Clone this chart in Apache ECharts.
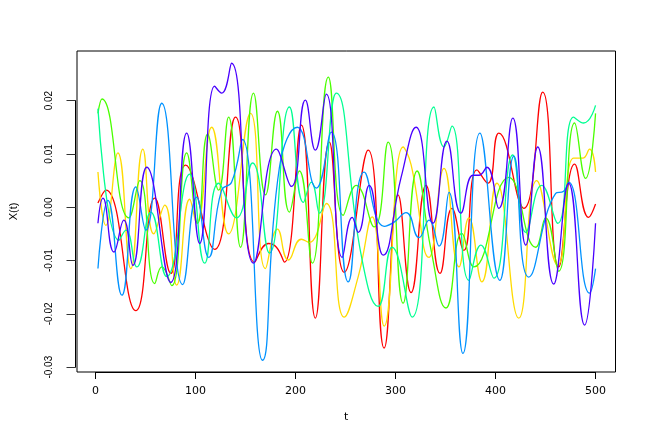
<!DOCTYPE html>
<html>
<head>
<meta charset="utf-8">
<script src="https://cdn.jsdelivr.net/npm/echarts@6/dist/echarts.min.js"></script>
<style>
  html, body { margin: 0; padding: 0; background: #fff; }
  #chart { width: 654px; height: 436px; }
</style>
</head>
<body>
<div id="chart"></div>
<script>
// six sample paths X(t) as [t, value] at turning points
var seriesNames = ["X1", "X2", "X3", "X4", "X5", "X6"];
var colors = ["#FF0000", "#FFDB00", "#49FF00", "#00FF92", "#0092FF", "#4900FF"];

var red = [[1,0.0008],[9,0.0032],[39,-0.0194],[58,0.0017],[74,-0.0124],[89,0.0079],[118,-0.0079],[139,0.0169],[158,-0.0103],[172,-0.0068],[180,-0.0075],[188,-0.0103],[205,0.0154],[219,-0.0208],[233,0.0122],[248,-0.0122],[272,0.0107],[288,-0.0264],[302,0.0023],[315,-0.016],[330,0.0041],[344,-0.0124],[356,-0.0002],[368,-0.0081],[381,0.007],[392,0.0045],[403,0.0139],[428,-0.0002],[447,0.0216],[463,-0.0112],[479,0.0081],[493,-0.0019],[500,0.0006]];
var yellow = [[1,0.0066],[9,-0.0034],[21,0.0102],[34,-0.0115],[46,0.0109],[57,-0.005],[68,0.0004],[80,-0.0146],[93,0.0015],[100,-0.003],[115,0.015],[132,-0.005],[154,0.0176],[169,-0.0115],[181,-0.0041],[192,-0.0099],[205,-0.006],[213,-0.0066],[230,0.0007],[248,-0.0206],[262,-0.013],[276,-0.0018],[288,-0.0223],[307,0.0113],[315,0.008],[333,-0.0094],[348,0.0073],[363,-0.0112],[373,-0.002],[386,-0.014],[401,0.0045],[423,-0.0208],[441,0.005],[462,-0.0109],[478,0.0092],[487,0.0092],[494,0.0109],[500,0.0066]];
var green = [[1,0.0176],[5,0.0203],[32,-0.002],[43,0.005],[58,-0.0143],[65,-0.0112],[75,-0.0147],[90,0.0102],[101,-0.003],[111,0.0137],[122,0.0032],[132,0.0169],[144,-0.0075],[157,0.0214],[169,0.0023],[181,0.018],[193,-0.0009],[203,0.0068],[216,-0.0105],[232,0.0244],[247,-0.0015],[260,0.0041],[278,-0.0037],[292,0.0122],[307,-0.018],[321,0.0068],[335,-0.008],[350,-0.0189],[366,-0.0049],[378,-0.0112],[413,0.0056],[440,-0.0075],[450,-0.002],[463,-0.012],[479,0.0158],[490,0.0054],[500,0.0176]];
var mint = [[1,0.0185],[22,-0.0062],[29,-0.0043],[40,-0.0112],[54,-0.0009],[70,-0.013],[93,0.0062],[108,-0.0105],[122,0.0045],[140,-0.002],[156,0.0083],[173,-0.0086],[193,0.0188],[207,0.0009],[215,0.0047],[223,-0.0011],[240,0.0214],[265,-0.009],[282,-0.0186],[296,-0.0075],[316,-0.0206],[338,0.0188],[348,0.0113],[356,0.0152],[373,-0.0137],[385,-0.0071],[398,-0.0133],[417,0.0098],[430,-0.0047],[446,0.0041],[462,-0.003],[478,0.0169],[488,0.0158],[500,0.0191]];
var blue = [[1,-0.0115],[11,0.0013],[25,-0.0165],[39,0.0038],[49,-0.0043],[65,0.0195],[86,-0.0145],[100,0.0019],[112,-0.0094],[125,0.0032],[135,0.0047],[146,0.0127],[166,-0.0287],[183,0.0075],[201,0.015],[220,0.0036],[235,0.0141],[252,-0.014],[268,0.0066],[288,-0.0036],[298,-0.0028],[310,-0.001],[323,-0.0057],[333,-0.0024],[343,-0.0073],[353,0.0028],[367,-0.0274],[384,0.0139],[404,-0.0137],[418,0.0096],[433,-0.0131],[460,0.0026],[468,0.003],[473,0.0047],[494,-0.0161],[500,-0.0115]];
var purple = [[1,-0.003],[6,0.0017],[17,-0.0084],[27,-0.0024],[36,-0.0109],[50,0.0075],[74,-0.0141],[90,0.0139],[103,-0.0068],[118,0.0227],[125,0.0214],[135,0.027],[157,-0.0105],[180,0.0109],[195,0.0039],[209,0.0201],[219,0.0107],[230,0.0212],[246,-0.0094],[256,-0.0019],[262,-0.0047],[273,0.0041],[287,-0.009],[305,0.0056],[320,0.015],[337,-0.003],[351,0.0124],[365,-0.0011],[377,0.006],[383,0.006],[391,0.0075],[403,-0.0002],[417,0.0167],[430,-0.0071],[442,0.0113],[458,-0.0144],[473,0.0045],[489,-0.0221],[500,-0.003]];

var allData = [red, yellow, green, mint, blue, purple];

var chart = echarts.init(document.getElementById("chart"));

var series = allData.map(function (d, i) {
  return {
    name: seriesNames[i],
    type: "line",
    data: d,
    smooth: 0.5,
    showSymbol: false,
    lineStyle: { color: colors[i], width: 1.3 },
    animation: false
  };
});

// plot range (R pads 4%), ticks only over the data range like axis() in R
var xMin = -20, xMax = 520;
var yMin = -0.0309, yMax = 0.0293;

chart.setOption({
  animation: false,
  backgroundColor: "#fff",
  grid: [
    { left: 75.5, top: 51, width: 540, height: 321, show: true, borderColor: "#000", borderWidth: 1 },
    // tick grid: spans 0..500 and -0.03..0.02 inside the box
    { left: 95.5, top: 100.6, width: 500, height: 266.6, show: false }
  ],
  xAxis: [
    {
      type: "value", gridIndex: 0, min: xMin, max: xMax,
      name: "t", nameLocation: "middle", nameGap: 40,
      nameTextStyle: { color: "#000", fontFamily: "DejaVu Sans", fontSize: 11 },
      splitLine: { show: false }, axisLine: { show: false, onZero: false },
      axisTick: { show: false }, axisLabel: { show: false }
    },
    {
      type: "value", gridIndex: 1, min: 0, max: 500, interval: 100, offset: 4.8,
      splitLine: { show: false },
      axisLine: { show: true, onZero: false, lineStyle: { color: "#000", width: 1 } },
      axisTick: { show: true, length: 7, lineStyle: { color: "#000", width: 1 } },
      axisLabel: { margin: 14, color: "#000", fontFamily: "DejaVu Sans", fontSize: 11 }
    }
  ],
  yAxis: [
    {
      type: "value", gridIndex: 0, min: yMin, max: yMax,
      name: "X(t)", nameLocation: "middle", nameGap: 58, nameRotate: 90,
      nameTextStyle: { color: "#000", fontFamily: "Liberation Sans", fontSize: 11 },
      splitLine: { show: false }, axisLine: { show: false, onZero: false },
      axisTick: { show: false }, axisLabel: { show: false }
    },
    {
      type: "value", gridIndex: 1, min: -0.03, max: 0.02, interval: 0.01, offset: 20,
      splitLine: { show: false },
      axisLine: { show: true, onZero: false, lineStyle: { color: "#000", width: 1 } },
      axisTick: { show: true, length: 9, lineStyle: { color: "#333", width: 1 } },
      axisLabel: {
        rotate: 90, margin: 21, color: "#000", fontFamily: "Liberation Sans", fontSize: 10,
        formatter: function (v) { return Math.abs(v) < 1e-9 ? "0.00" : v.toFixed(2); }
      }
    }
  ],
  series: series
});
</script>
</body>
</html>
